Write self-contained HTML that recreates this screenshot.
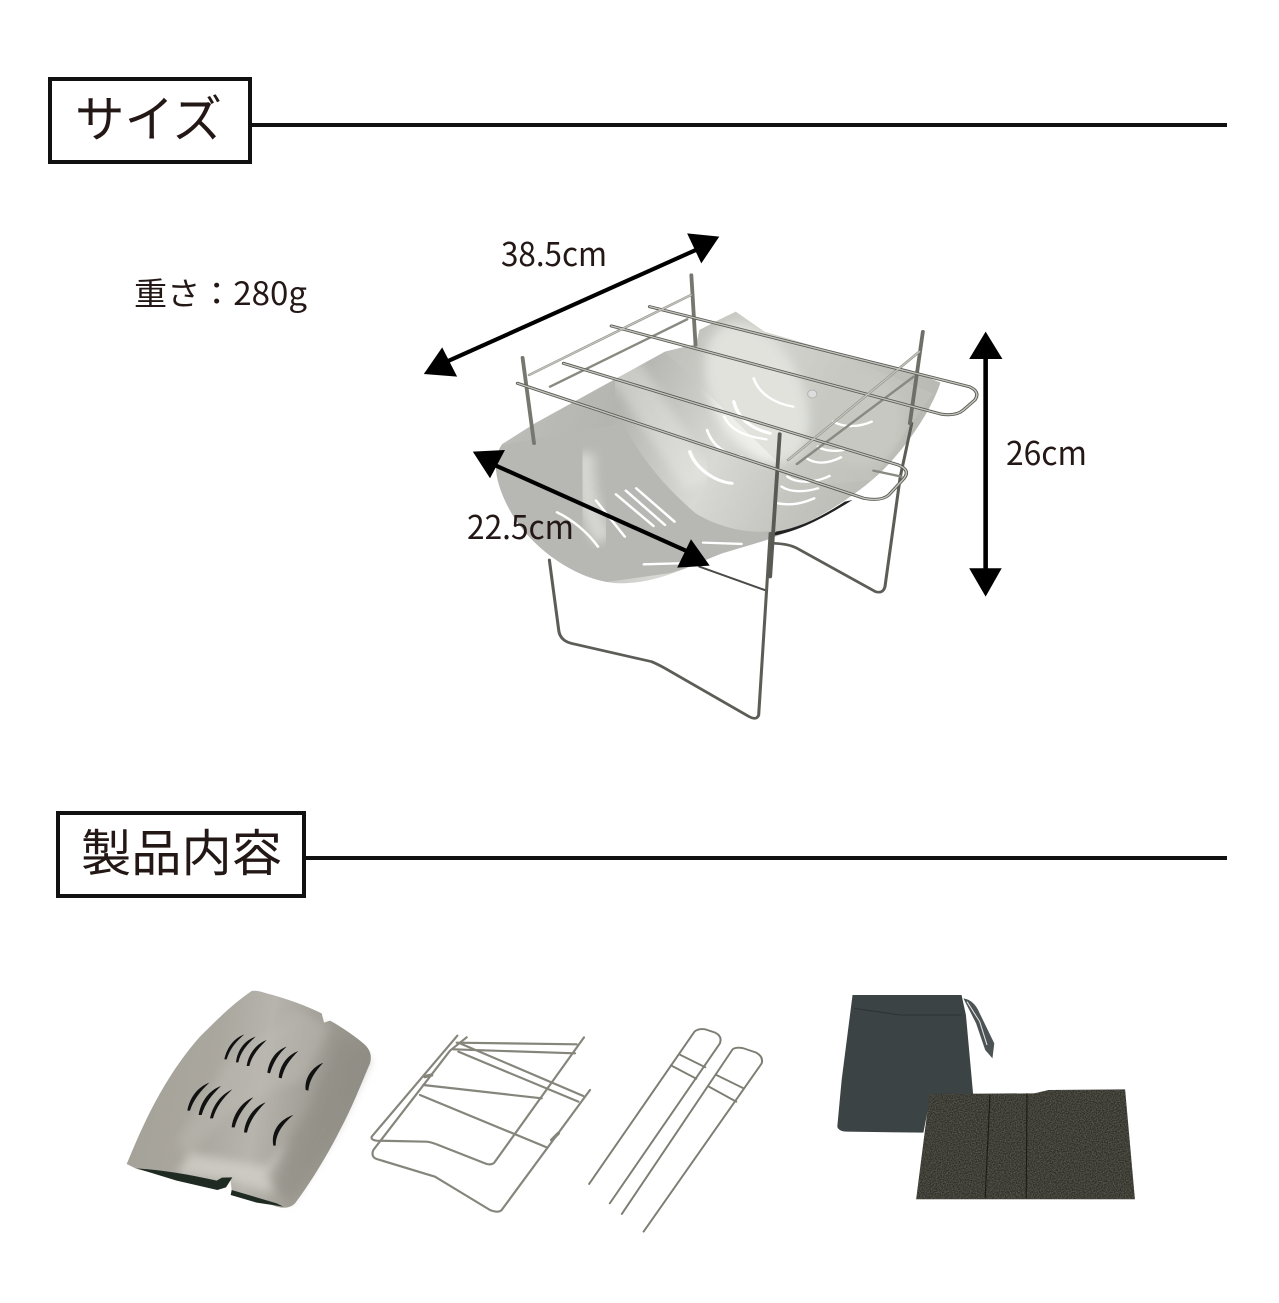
<!DOCTYPE html>
<html lang="ja"><head><meta charset="utf-8"><title>サイズ</title>
<style>
html,body{margin:0;padding:0;background:#fff;width:1279px;height:1303px;overflow:hidden}
svg{display:block}
text{font-family:"Liberation Sans","Noto Sans CJK JP",sans-serif;fill:#231815}
text.n{font-family:"Noto Sans CJK JP","Liberation Sans",sans-serif;font-weight:400}
</style></head><body>
<svg width="1279" height="1303" viewBox="0 0 1279 1303" xmlns="http://www.w3.org/2000/svg">
<defs>
<linearGradient id="sh" x1="0" y1="0" x2="1" y2="0.3">
<stop offset="0" stop-color="#c2c2be"/><stop offset=".35" stop-color="#b4b4b0"/><stop offset=".6" stop-color="#d8d8d4"/><stop offset=".8" stop-color="#c4c5bf"/><stop offset="1" stop-color="#b8b9b3"/>
</linearGradient>
<linearGradient id="pl" x1="0" y1="0" x2="1" y2="0.15">
<stop offset="0" stop-color="#a3a097"/><stop offset=".4" stop-color="#aaa79f"/><stop offset=".6" stop-color="#b6b4ac"/><stop offset=".85" stop-color="#9c9991"/><stop offset="1" stop-color="#918e86"/>
</linearGradient>
<filter id="b6"><feGaussianBlur stdDeviation="14"/></filter>
<filter id="mt" x="0" y="0" width="100%" height="100%"><feTurbulence type="fractalNoise" baseFrequency="0.3" numOctaves="2" seed="3"/><feColorMatrix values="0 0 0 0 .32  0 0 0 0 .32  0 0 0 0 .27  0 0 0 .55 -.18"/><feComposite in2="SourceGraphic" operator="in"/><feMerge><feMergeNode in="SourceGraphic"/><feMergeNode/></feMerge></filter>
<clipPath id="sc"><path d="M215 672C185 720 195 800 250 900C310 1000 420 1085 520 1090C620 1092 700 1040 790 1000L900 962C1000 925 1130 840 1210 750C1280 670 1340 560 1360 488L1280 450L1050 385L900 335L825 275L780 300L730 330L722 372L640 395L300 610Z"/></clipPath>
</defs>

<!-- headings -->
<rect x="50" y="79" width="200" height="83" fill="#fff" stroke="#111" stroke-width="4"/>
<rect x="250" y="123" width="977" height="4" fill="#111"/>
<text class="n" x="75" y="137" font-size="50" textLength="147" lengthAdjust="spacingAndGlyphs">サイズ</text>
<rect x="58" y="813" width="246" height="83" fill="#fff" stroke="#111" stroke-width="4"/>
<rect x="304" y="856" width="923" height="4" fill="#111"/>
<text class="n" x="81" y="871" font-size="50" textLength="201" lengthAdjust="spacingAndGlyphs">製品内容</text>
<text class="n" x="134" y="305" font-size="32" textLength="173" lengthAdjust="spacingAndGlyphs">重さ：280g</text>

<!-- main product -->
<g transform="translate(420 220) scale(.3827 .3333)">
<path d="M215 672C185 720 195 800 250 900C310 1000 420 1085 520 1090C620 1092 700 1040 790 1000L900 962C1000 925 1130 840 1210 750C1280 670 1340 560 1360 488L1280 450L1050 385L900 335L825 275L780 300L730 330L722 372L640 395L300 610Z" fill="url(#sh)"/>
<g clip-path="url(#sc)">
<path d="M530 610C580 720 640 800 720 880C790 930 880 945 930 930L900 980L650 1060L400 1100L200 900L190 680Z" fill="#b7b7b3"/>
<ellipse cx="880" cy="520" rx="120" ry="220" fill="#eeeeea" filter="url(#b6)" transform="rotate(-20 880 520)"/>
<ellipse cx="1150" cy="600" rx="110" ry="140" fill="#c6c7c1" filter="url(#b6)"/>
<path d="M640 395L1000 800L1180 780L1340 520L1050 385L825 275Z" fill="#c9cac4" opacity=".35"/>
<path d="M530 440L730 790" stroke="#f4f4f0" stroke-width="90" opacity=".35" filter="url(#b6)"/>
<path d="M430 700C430 800 440 880 480 960" stroke="#d6d6d2" stroke-width="50" fill="none" filter="url(#b6)"/>
</g>
<path d="M920 948C990 935 1060 890 1130 840L1110 845C1050 890 990 925 930 935Z" fill="#222"/>
<g fill="none" stroke="#fff" stroke-width="7" stroke-linecap="round">
<path d="M358 877C400 900 440 940 465 980"/><path d="M460 842L535 950"/><path d="M512 823L610 918"/><path d="M538 812L640 915"/><path d="M565 805L665 905"/>
<path d="M585 1033L680 1030"/><path d="M740 968L840 972"/>
<path d="M872 475C885 520 925 550 975 560"/><path d="M820 545C830 590 860 625 915 640" stroke-width="9"/><path d="M795 590C810 630 850 650 905 658"/><path d="M750 630C765 680 800 705 840 710"/><path d="M705 695C720 745 770 785 815 790" stroke-width="9"/>
<path d="M1080 605C1110 625 1150 620 1180 605"/><path d="M1040 680C1060 695 1095 695 1110 688"/><path d="M1010 715C1030 730 1060 735 1100 712"/><path d="M960 770C990 795 1040 785 1070 768"/><path d="M945 800C970 820 1010 815 1040 805"/><path d="M935 850C970 858 1000 850 1030 835"/>
</g>
<circle cx="1025" cy="522" r="12" fill="#ddd" stroke="#aaa" stroke-width="2"/>

<g fill="none" stroke-linecap="round" stroke-linejoin="round">
<!-- legs -->
<path d="M730 1040L900 1110" stroke="#4a4a46" stroke-width="6"/>
<path d="M338 1020L363 1235Q368 1262 395 1270L605 1325Q625 1335 640 1345L860 1490Q880 1502 885 1485L915 940" stroke="#5d5d58" stroke-width="8"/>
<path d="M1285 610L1255 770L1215 1100Q1210 1122 1190 1115L985 985Q965 972 925 970" stroke="#5d5d58" stroke-width="8"/>
<path d="M940 642L915 1070" stroke="#5a5a55" stroke-width="10"/>
<!-- posts -->
<path d="M709 165L720 375" stroke="#777770" stroke-width="10"/>
<path d="M268 413L298 670" stroke="#777770" stroke-width="10"/>
<path d="M1314 335L1280 610" stroke="#6f6f69" stroke-width="10"/>
<!-- cross rails -->
<g stroke="#8a8a83" stroke-width="7">
<path d="M285 465L708 225"/><path d="M340 500L698 298"/>
<path d="M962 720L1305 395"/><path d="M985 732L1290 470"/>
<path d="M1185 752L1258 770"/>
</g>
<!-- handle rails -->
<g stroke="#5a5a55" stroke-width="9">
<path d="M600 260L1435 500Q1465 515 1450 540L1420 570Q1400 590 1360 582L500 318"/>
<path d="M375 430L1250 735Q1282 750 1265 775L1225 825Q1205 845 1160 835L255 490"/>
</g>
<g stroke="#c4c4bd" stroke-width="4">
<path d="M600 260L1435 500Q1465 515 1450 540L1420 570Q1400 590 1360 582L500 318"/>
<path d="M375 430L1250 735Q1282 750 1265 775L1225 825Q1205 845 1160 835L255 490"/>
<path d="M285 465L708 225"/><path d="M962 720L1305 395"/>
</g>
</g>
<!-- arrows -->
<g stroke="#000" stroke-width="12">
<path d="M60 430L740 80"/><path d="M185 730L710 1000"/><path d="M1478 400L1478 1060"/>
</g>
<g fill="#000">
<path d="M10 462L97 470L58 382Z"/><path d="M698 40L782 50L735 130Z"/>
<path d="M138 695L222 690L183 775Z"/><path d="M672 1043L757 1037L708 958Z"/>
<path d="M1478 335L1435 417L1522 417Z"/><path d="M1435 1045L1520 1045L1478 1130Z"/>
</g>
</g>
<text class="n" x="501" y="266" font-size="33" textLength="106" lengthAdjust="spacingAndGlyphs">38.5cm</text>
<text class="n" x="467" y="539" font-size="33" textLength="107" lengthAdjust="spacingAndGlyphs">22.5cm</text>
<text class="n" x="1006" y="465" font-size="33" textLength="81" lengthAdjust="spacingAndGlyphs">26cm</text>

<!-- plate + wire frame -->
<g transform="translate(110 980) scale(.33333)">
<path d="M425 33Q440 30 470 40C530 55 590 78 635 100L642 128L660 122C690 138 730 165 760 190Q790 215 780 250C750 320 725 385 690 450C650 530 600 610 555 670Q535 690 500 680L365 632L362 600L335 605L322 625L80 567L50 552C80 480 110 410 150 340C190 270 230 215 270 170C320 120 370 70 425 33Z" fill="url(#pl)"/>
<path d="M240 540C330 400 450 330 580 300L660 140L560 90L350 250L200 480Z" fill="#bdbbb3" opacity=".45" filter="url(#b6)"/>
<path d="M200 585L240 520L470 560L540 480L480 640L360 600Z" fill="#d2d0c8" opacity=".8" filter="url(#b6)"/>
<path d="M690 170L780 240L680 450L540 670L470 590L600 380Z" fill="#8f8c84" opacity=".55" filter="url(#b6)"/>
<path d="M80 565Q190 572 320 602L336 593L367 592L348 622L322 630L200 602ZM365 630L500 670L520 680L440 668L362 645Z" fill="#1f2a22"/>
<g fill="#111">
<path d="M343 238C350 205 370 175 403 163C378 185 360 205 350 238Z"/>
<path d="M378 247C382 210 405 180 437 170C412 192 392 215 385 247Z"/>
<path d="M410 258C415 222 438 192 470 180C445 205 425 228 418 258Z"/>
<path d="M472 278C478 240 497 212 530 200C505 222 490 248 480 280Z"/>
<path d="M506 293C510 255 532 225 565 213C540 238 522 262 515 295Z"/>
<path d="M587 330C583 295 605 262 640 248C615 275 598 300 595 332Z"/>
<path d="M232 392C240 352 262 322 298 308C270 335 250 360 240 392Z"/>
<path d="M266 405C272 365 298 330 333 318C305 345 285 370 275 405Z"/>
<path d="M300 415C308 378 330 345 367 328C338 355 318 382 309 415Z"/>
<path d="M365 442C368 405 395 365 430 352C402 380 382 410 374 442Z"/>
<path d="M402 457C405 420 430 380 467 367C438 395 418 425 411 458Z"/>
<path d="M490 497C482 455 508 418 550 405C520 430 497 460 497 497Z"/>
</g>
<g fill="none" stroke="#85857c" stroke-width="6.5" stroke-linecap="round" stroke-linejoin="round">
<path d="M1042 167L785 470Q782 480 800 482L950 485Q960 485 985 495L1130 552Q1148 556 1155 545L1422 172"/>
<path d="M1070 172L1020 212L790 510Q782 530 800 537L975 590L1140 690Q1165 700 1175 690L1440 330"/>
<path d="M1040 188L1400 193"/><path d="M1030 208L1395 220"/>
<path d="M1050 190L1420 348"/><path d="M1045 215L1405 365"/>
<path d="M940 315L1295 355"/><path d="M930 345L1310 502"/>
<path d="M945 290L965 285" stroke-width="10"/><path d="M1325 480L1345 460" stroke-width="10"/>
</g>
</g>

<!-- skewers, bag, mat -->
<g transform="translate(580 980) scale(.3634 .3333)">
<g fill="none" stroke="#7d7d73" stroke-linecap="round" stroke-linejoin="round" stroke-width="5.5">
<path d="M25 612L315 155Q325 145 345 148L372 158Q392 168 385 190L82 670"/>
<path d="M115 702L420 208Q430 200 450 205L485 218Q505 230 500 250L175 755"/>
<path d="M275 224L345 262"/><path d="M250 256L320 296"/>
<path d="M375 285L450 325"/><path d="M355 320L430 365"/>
</g>
<path d="M750 45L1050 45L1062 105L1082 345L965 345L945 458L735 455Q712 455 708 440L720 300Z" fill="#3b4345"/>
<path d="M755 85L880 105L1050 105" fill="none" stroke="#2d3335" stroke-width="3"/>
<path d="M1055 55Q1085 60 1100 100L1140 190L1135 235L1115 210L1090 130Z" fill="#4d5354"/>
<path d="M1065 65L1100 125L1120 195" fill="none" stroke="#dfe2e2" stroke-width="3"/>
<path d="M962 342L1250 340L1290 330L1500 328L1527 658L925 658Z" fill="#2e2d25" filter="url(#mt)"/>
<path d="M1128 345L1115 655M1230 340L1228 655" fill="none" stroke="#1c1b14" stroke-width="3"/>
</g>
</svg>
</body></html>
